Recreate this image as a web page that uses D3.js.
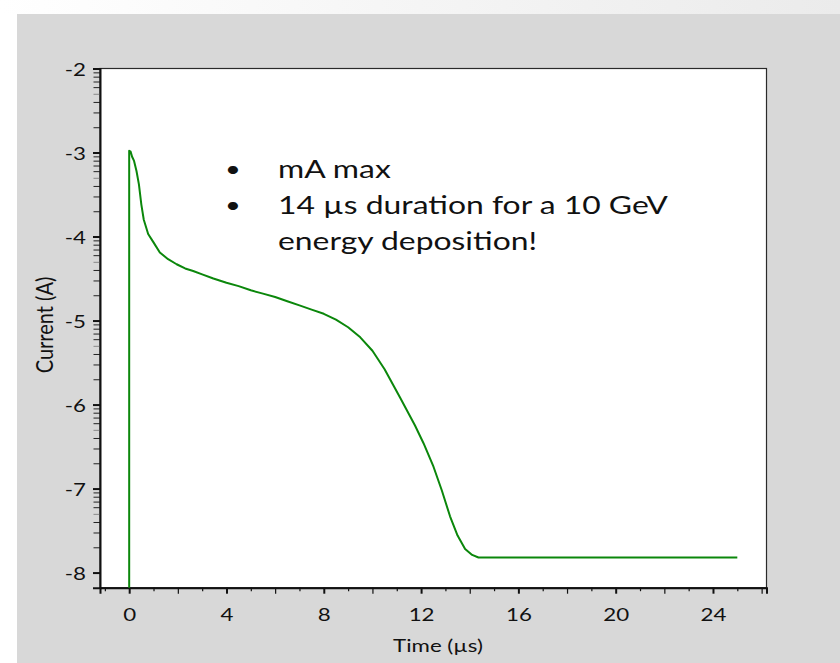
<!DOCTYPE html>
<html>
<head>
<meta charset="utf-8">
<script src="https://cdn.jsdelivr.net/npm/d3@7"></script>
<style>
  html, body { margin: 0; padding: 0; background: #ffffff; }
  svg { display: block; }
  text { font-family: Lato, "Open Sans", "Liberation Sans", sans-serif; fill: #111; }
</style>
</head>
<body>
<svg id="chart" width="840" height="663"></svg>
<script>
// Discharge current of the detector pulse: time in microseconds, log10 of current in amperes
const timeUs = [0, 0, 0.06, 0.12, 0.2, 0.3, 0.4, 0.5, 0.6, 0.78, 1.0, 1.26, 1.6, 1.95, 2.3, 2.63, 3.0, 3.46,
  4.0, 4.5, 5.0, 5.5, 6.0, 6.5, 7.0, 7.5, 8.0, 8.5, 9.0, 9.5, 10.0, 10.5, 11.14, 11.75, 12.1, 12.51,
  12.85, 13.19, 13.5, 13.81, 14.1, 14.36, 25.0];
const logCurrent = [-8.4, -2.98, -2.99, -3.05, -3.1, -3.22, -3.38, -3.62, -3.8, -3.97, -4.07, -4.19, -4.27, -4.33, -4.38, -4.41, -4.45, -4.5,
  -4.55, -4.59, -4.64, -4.68, -4.72, -4.77, -4.82, -4.87, -4.92, -4.99, -5.08, -5.2, -5.36, -5.58, -5.92, -6.25, -6.46, -6.74,
  -7.02, -7.33, -7.56, -7.72, -7.79, -7.82, -7.82];

const xLabelTicks = [0, 4, 8, 12, 16, 20, 24];
const yDecades = [-8, -7, -6, -5, -4, -3, -2];
const bulletItems = [["mA max"], ["14 µs duration for a 10 GeV", "energy deposition!"]];
const xTitle = "Time (µs)";
const yTitle = "Current (A)";

const svg = d3.select("#chart");
const W = 840, H = 663;
const stretch = 1.24;   // the slide text is set wide

// Slide background: faint top band, gray panel
const defs = svg.append("defs");
const grad = defs.append("linearGradient").attr("id", "topBand").attr("x1", 0).attr("x2", 1).attr("y1", 0).attr("y2", 0);
grad.append("stop").attr("offset", 0).attr("stop-color", "#ffffff");
grad.append("stop").attr("offset", 1).attr("stop-color", "#ebebeb");
svg.append("rect").attr("x", 0).attr("y", 0).attr("width", W).attr("height", 14).attr("fill", "url(#topBand)");
svg.append("rect").attr("x", 17).attr("y", 14).attr("width", W - 17).attr("height", H - 14).attr("fill", "#d8d8d8");

// Plot frame
const plot = { left: 100, right: 766.5, top: 68.5, bottom: 587.7 };
const x = d3.scaleLinear().domain([-1.2, 26.2]).range([plot.left, plot.right]);
const y = d3.scaleLinear().domain([-8.18, -2]).range([plot.bottom, plot.top]);

defs.append("clipPath").attr("id", "plotClip")
  .append("rect").attr("x", plot.left).attr("y", plot.top)
  .attr("width", plot.right - plot.left).attr("height", plot.bottom - plot.top);

svg.append("rect")
  .attr("x", plot.left).attr("y", plot.top)
  .attr("width", plot.right - plot.left).attr("height", plot.bottom - plot.top)
  .attr("fill", "#ffffff").attr("stroke", "#2a2a2a").attr("stroke-width", 1.2);

// X axis: a tick every microsecond, longer on even values, bold on labelled ones
const xMinor = d3.range(-1, 27);
const xAxisG = svg.append("g").attr("transform", `translate(0,${plot.bottom})`)
  .call(d3.axisBottom(x).tickValues(xMinor).tickSize(6).tickFormat(""));
xAxisG.select(".domain").attr("stroke", "#111").attr("stroke-width", 2);
xAxisG.selectAll(".tick line")
  .attr("y2", d => (d % 2 === 0 ? 6 : 3.5))
  .attr("stroke", "#111")
  .attr("stroke-width", d => (d % 4 === 0 ? 2 : 1.2));

const xLabelG = svg.append("g").attr("transform", `translate(0,${plot.bottom})`)
  .call(d3.axisBottom(x).tickValues(xLabelTicks).tickSize(0).tickPadding(21).tickFormat(d => String(d)));
xLabelG.select(".domain").remove();
xLabelG.selectAll("text")
  .style("font-size", "18px")
  .attr("transform", `scale(${stretch},1)`);

// Y axis: log10 decades with minor ticks at 2..9 within each decade
const yMinor = [];
yDecades.slice(0, -1).forEach(n => {
  for (let k = 2; k <= 9; k++) yMinor.push(n + Math.log10(k));
});
const yMinorG = svg.append("g").attr("transform", `translate(${plot.left},0)`)
  .call(d3.axisLeft(y).tickValues(yMinor).tickSize(6.5).tickFormat(""));
yMinorG.select(".domain").remove();
yMinorG.selectAll(".tick line")
  .attr("stroke", (d, i) => (i % 8 === 3 ? "#888" : "#222"))
  .attr("stroke-width", 1);

const yAxisG = svg.append("g").attr("transform", `translate(${plot.left},0)`)
  .call(d3.axisLeft(y).tickValues(yDecades).tickSize(7).tickPadding(7).tickFormat(d => String(d)));
yAxisG.select(".domain").attr("stroke", "#111").attr("stroke-width", 2);
yAxisG.selectAll(".tick line").attr("stroke", "#111").attr("stroke-width", 2);
yAxisG.selectAll("text")
  .style("font-size", "18px")
  .attr("x", 0)
  .attr("dy", "0.38em")
  .attr("transform", `translate(-14,0) scale(${stretch},1)`);

// Axis titles
svg.append("text")
  .attr("transform", `translate(438,652) scale(${stretch},1)`)
  .attr("text-anchor", "middle")
  .style("font-size", "18px")
  .text(xTitle);
svg.append("text")
  .attr("transform", "translate(53,325) scale(1.12,1) rotate(-90)")
  .attr("text-anchor", "middle")
  .style("font-size", "20px")
  .text(yTitle);

// Current trace
const line = d3.line().x((d, i) => x(timeUs[i])).y(d => y(d));
svg.append("path")
  .datum(logCurrent)
  .attr("clip-path", "url(#plotClip)")
  .attr("d", line)
  .attr("fill", "none")
  .attr("stroke", "#0b870b")
  .attr("stroke-width", 2)
  .attr("stroke-linejoin", "round");

// Bullet notes
const notes = svg.append("g");
let baseY = 178;
bulletItems.forEach(lines => {
  notes.append("text")
    .attr("transform", `translate(225,${baseY - 1}) scale(${stretch},1)`)
    .style("font-size", "22px")
    .text("•");
  lines.forEach((t, j) => {
    notes.append("text")
      .attr("transform", `translate(278,${baseY + j * 36}) scale(${stretch},1)`)
      .style("font-size", "25.7px")
      .text(t);
  });
  baseY += lines.length * 36;
});
</script>
</body>
</html>
